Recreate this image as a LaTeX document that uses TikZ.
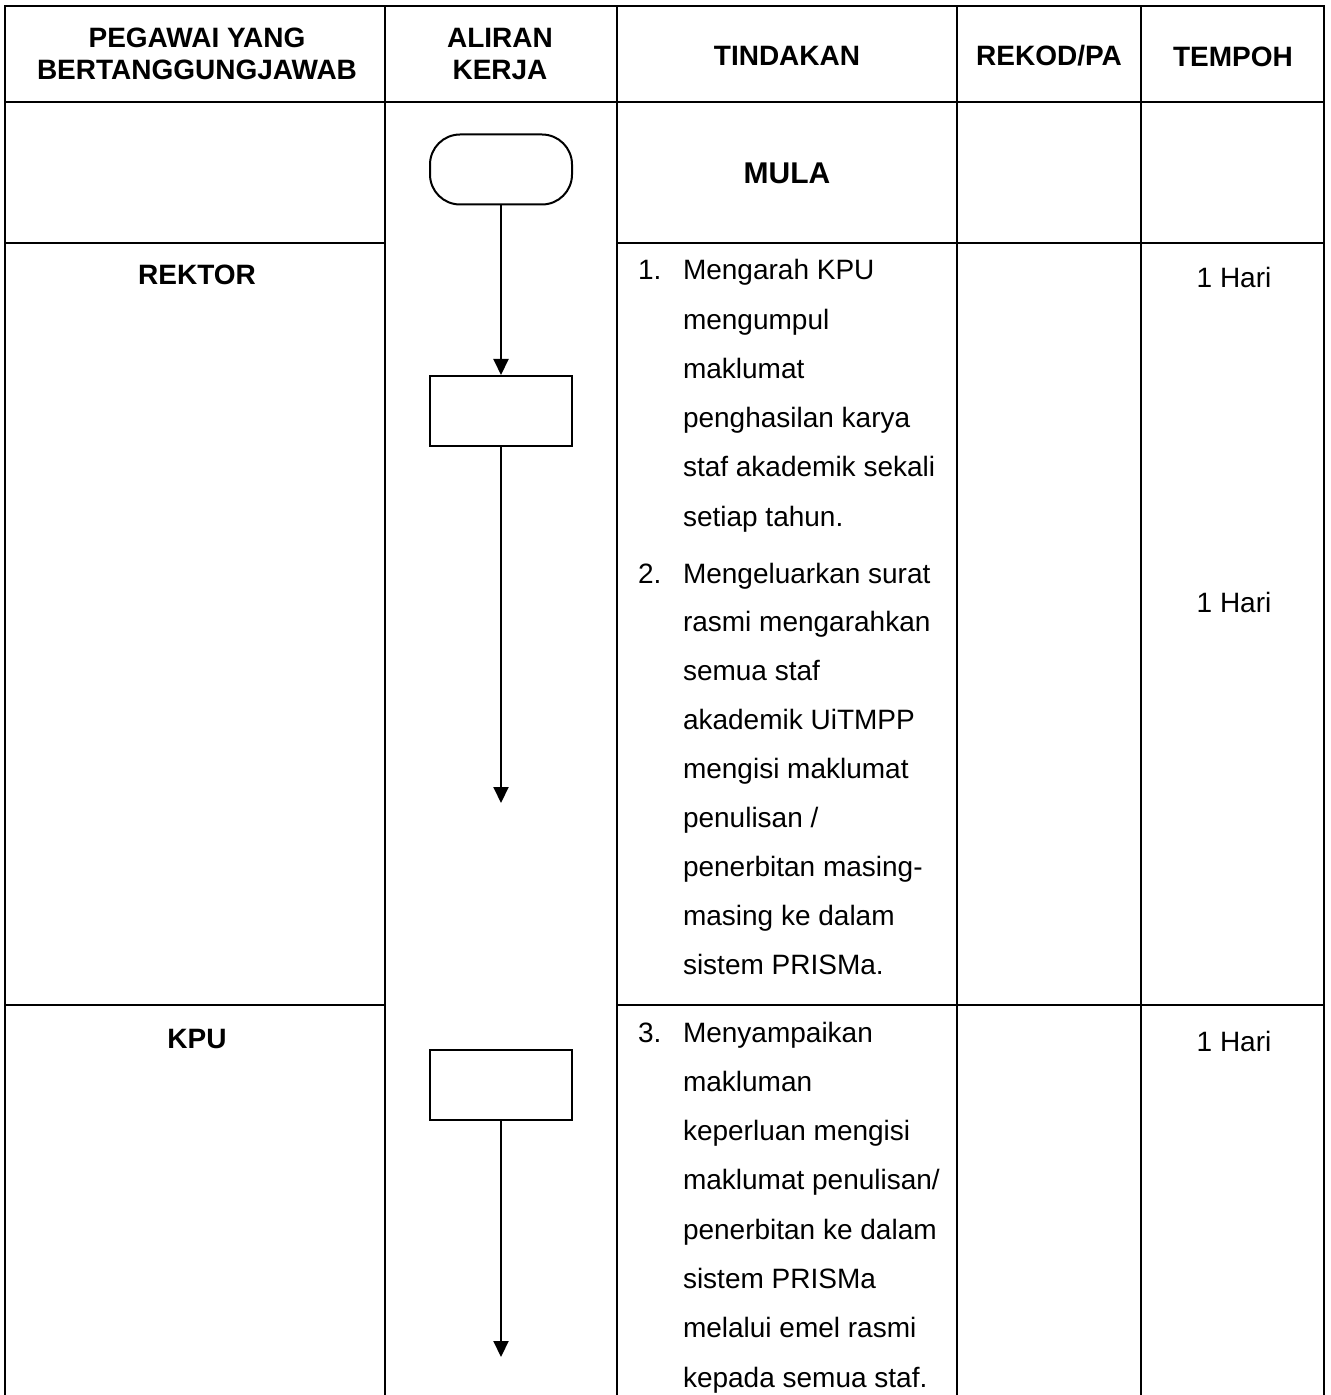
\documentclass[tikz,border=0pt]{standalone}
\usepackage{fontspec}
\setmainfont{Liberation Sans}
\usetikzlibrary{arrows.meta}

\begin{document}
\begin{tikzpicture}[x=0.5pt,y=-0.5pt,line width=1pt,
	entete/.style={font=\fontsize{14}{16}\selectfont\bfseries,anchor=base,inner sep=0pt},
	corps/.style={font=\fontsize{14}{16}\selectfont,anchor=base west,inner sep=0pt},
	boite/.style={draw,minimum width=71pt,minimum height=35pt,inner sep=0pt},
	fleche/.style={-{Triangle[length=8pt,width=7.5pt]}}]
				\useasboundingbox (0,0) rectangle (1330,1395);
				% le tableau
				\draw (5,1395) -- (5,6) -- (1324,6) -- (1324,1395);
				\foreach \x in {385,617,957,1141}
					\draw (\x,6) -- (\x,1395);
				\draw (5,102) -- (1324,102);
				\foreach \y in {243,1005}{
					\draw (5,\y) -- (385,\y);
					\draw (617,\y) -- (1324,\y);}
				% les en-tetes
				\node[entete] (pegawai) at (197,48) {PEGAWAI YANG};
				\node[entete] (bertanggung) at (197,80) {BERTANGGUNGJAWAB};
				\node[entete] (aliran) at (500,48) {ALIRAN};
				\node[entete] (kerja) at (500,80) {KERJA};
				\node[entete] (tindakan) at (787,66) {TINDAKAN};
				\node[entete] (rekod) at (1049,66) {REKOD/PA};
				\node[entete] (tempoh) at (1233,67) {TEMPOH};
				\node[entete,font=\fontsize{15}{17}\selectfont\bfseries] (mula) at (787,184) {MULA};
				\node[entete] (rektor) at (197,285) {REKTOR};
				\node[entete] (kpu) at (197,1048) {KPU};
				% le flux
				\node[boite,rounded corners=15pt] (debut) at (501,169.5) {};
				\node[boite] (etape1) at (501,411) {};
				\node[boite] (etape2) at (501,1085) {};
				\coordinate (fin1) at (501,803);
				\coordinate (fin2) at (501,1357);
				\draw[fleche] (debut) -- (etape1);
				\draw[fleche] (etape1) -- (fin1);
				\draw[fleche] (etape2) -- (fin2);
				% les actions
				\node[corps] (n1) at (637,280) {1.};
				\node[corps] (n2) at (637,583) {2.};
				\node[corps] (n3) at (637,1042) {3.};
				\foreach \ligne [count=\k from 0] in {Mengarah KPU, mengumpul, maklumat,
					penghasilan karya, staf akademik sekali, setiap tahun.}{
					\node[corps] (ua\k) at (682,{280+49.2*\k}) {\ligne};}
				\foreach \ligne [count=\k from 0] in {Mengeluarkan surat, rasmi mengarahkan,
					semua staf, akademik UiTMPP, mengisi maklumat, penulisan /,
					penerbitan masing-, masing ke dalam, sistem PRISMa.}{
					\node[corps] (ub\k) at (682,{583+48.9*\k}) {\ligne};}
				\foreach \ligne [count=\k from 0] in {Menyampaikan, makluman, keperluan mengisi,
					maklumat penulisan/, penerbitan ke dalam, sistem PRISMa,
					melalui emel rasmi, kepada semua staf.}{
					\node[corps] (uc\k) at (682,{1042+49.3*\k}) {\ligne};}
				% les durees
				\foreach \y [count=\k] in {288,612,1051}{
					\node[corps,anchor=base] (hari\k) at (1234,\y) {1 Hari};}
			\end{tikzpicture}
\end{document}
